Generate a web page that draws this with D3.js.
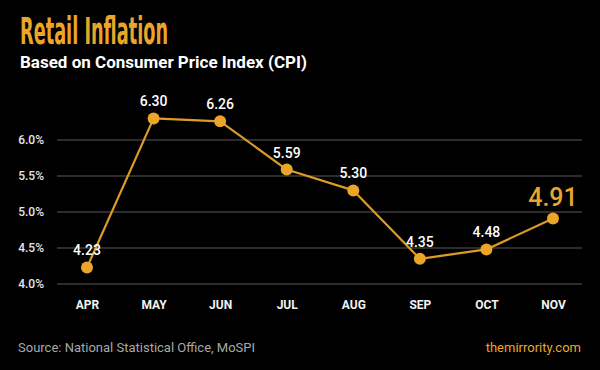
<!DOCTYPE html>
<html><head><meta charset="utf-8">
<script src="https://cdn.jsdelivr.net/npm/d3@7"></script>
<style>body{margin:0;background:#000;}svg{display:block;}</style>
</head><body><svg id="c" width="600" height="370"></svg>
<script>
const months = ["APR","MAY","JUN","JUL","AUG","SEP","OCT","NOV"];
const inflation = [4.23, 6.30, 6.26, 5.59, 5.30, 4.35, 4.48, 4.91];
const yTicks = [4.0, 4.5, 5.0, 5.5, 6.0];
const title = "Retail Inflation";
const subtitle = "Based on Consumer Price Index (CPI)";
const source = "Source: National Statistical Office, MoSPI";
const site = "themirrority.com";

const gold = "#EBA62A";
const svg = d3.select("#c");
svg.append("rect").attr("width",600).attr("height",370).attr("fill","#000");

const x = d3.scalePoint().domain(months).range([87,553]);
const y = d3.scaleLinear().domain([4.0,6.0]).range([284,140]);

// gridlines
svg.append("g").selectAll("line").data(yTicks).join("line")
  .attr("x1",57).attr("x2",582)
  .attr("y1",d=>y(d)).attr("y2",d=>y(d))
  .attr("stroke","#5a5a5a").attr("stroke-width",1);

// y axis labels
const yAxis = d3.axisLeft(y).tickValues(yTicks).tickFormat(d=>d.toFixed(1)+"%").tickSize(0).tickPadding(0);
const gy = svg.append("g").attr("transform","translate(44,0)").call(yAxis);
gy.select(".domain").remove();
gy.selectAll("text").attr("fill","#e6e6e6").attr("font-family","Roboto").attr("font-size",12).attr("font-weight",500);

// x axis labels
const xAxis = d3.axisBottom(x).tickSize(0).tickPadding(0);
const gx = svg.append("g").attr("transform","translate(0,300)").call(xAxis);
gx.select(".domain").remove();
gx.selectAll("text").attr("fill","#f2f2f2").attr("font-family","Roboto").attr("font-size",12).attr("font-weight",700);

// line
const line = d3.line().x((d,i)=>x(months[i])).y(d=>y(d));
svg.append("path").datum(inflation).attr("d",line)
  .attr("fill","none").attr("stroke","#DD9C26").attr("stroke-width",2.2).attr("stroke-linejoin","round");

// points
svg.append("g").selectAll("circle").data(inflation).join("circle")
  .attr("cx",(d,i)=>x(months[i])).attr("cy",d=>y(d)).attr("r",6).attr("fill",gold);

// value labels
const last = inflation.length-1;
svg.append("g").selectAll("text").data(inflation).join("text")
  .attr("x",(d,i)=>x(months[i])).attr("y",d=>y(d)-12)
  .attr("text-anchor","middle")
  .attr("font-family","Roboto").attr("font-weight",500)
  .attr("font-size",(d,i)=>i===last?25:14)
  .attr("fill",(d,i)=>i===last?gold:"#ffffff")
  .text(d=>d.toFixed(2));

// title
svg.append("text").attr("x",20).attr("y",44)
  .attr("font-family","Liberation Sans Narrow, DejaVu Sans Condensed, sans-serif").attr("font-weight",700)
  .attr("font-size",37).attr("fill",gold).attr("textLength",148).attr("lengthAdjust","spacingAndGlyphs")
  .text(title);
svg.append("text").attr("x",20).attr("y",68)
  .attr("font-family","Roboto").attr("font-weight",700).attr("font-size",17).attr("fill","#ffffff")
  .text(subtitle);

// footer
svg.append("text").attr("x",18).attr("y",352)
  .attr("font-family","Roboto").attr("font-size",13).attr("fill","#a8a8a8").text(source);
svg.append("text").attr("x",581).attr("y",352).attr("text-anchor","end")
  .attr("font-family","Roboto").attr("font-size",13).attr("fill",gold).text(site);
</script></body></html>
